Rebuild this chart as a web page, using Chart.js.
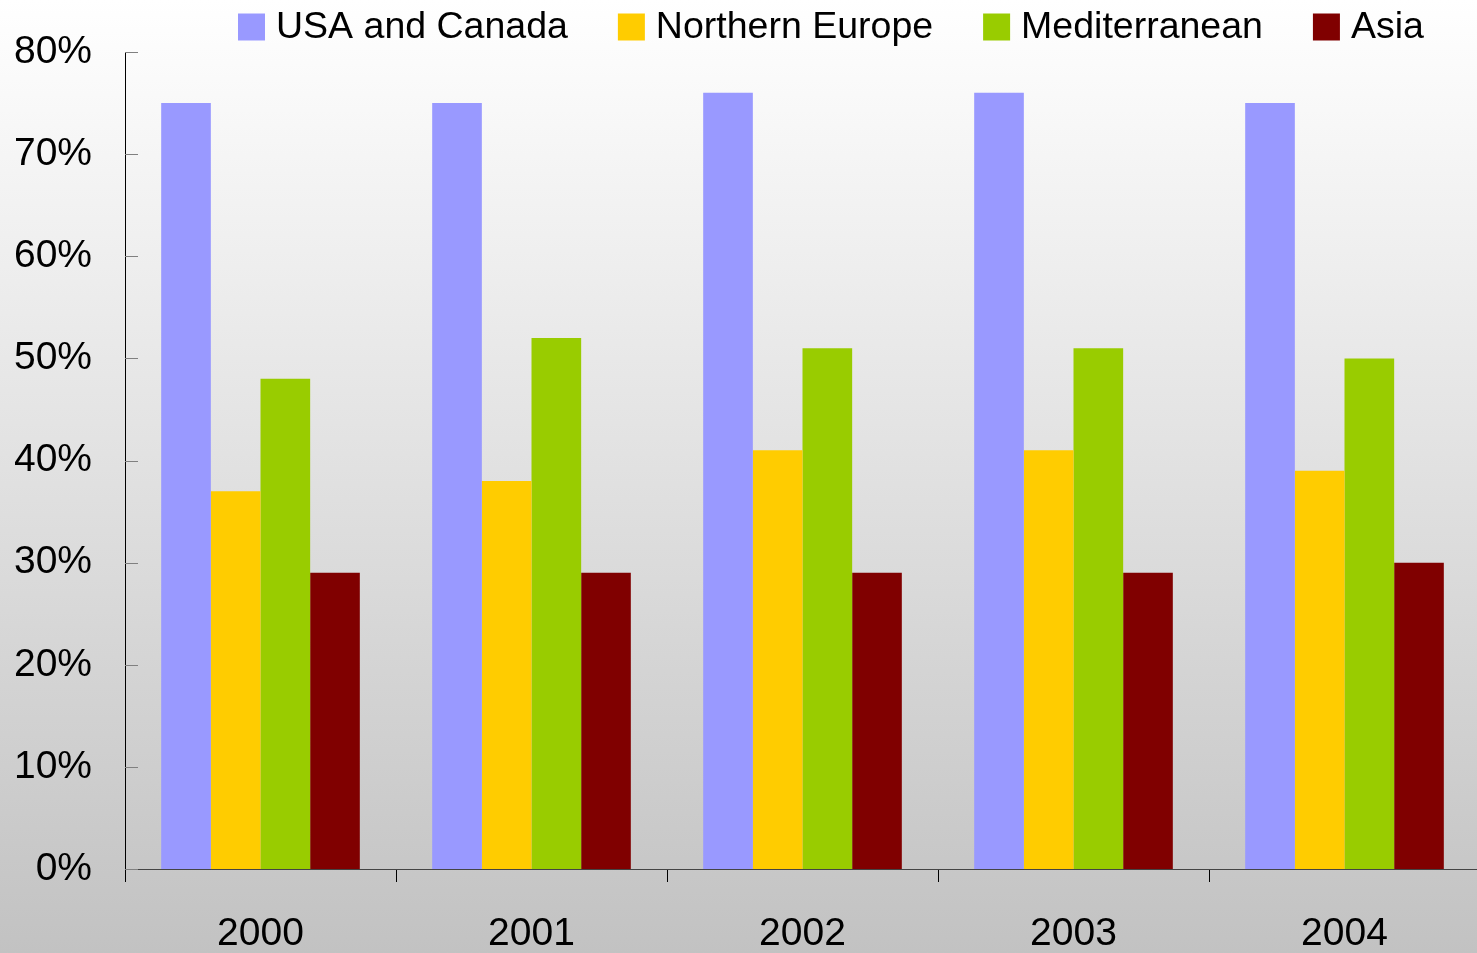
<!DOCTYPE html>
<html><head><meta charset="utf-8">
<script src="https://cdn.jsdelivr.net/npm/chart.js@4"></script>
<style>html,body{margin:0;padding:0;overflow:hidden;background:#fff}
#wrap{position:relative;width:1480px;height:953px}
</style></head><body><div id="wrap"><canvas id="c"></canvas></div>
<script>
const categories = ['2000', '2001', '2002', '2003', '2004'];
const seriesNames = ['USA and Canada', 'Northern Europe', 'Mediterranean', 'Asia'];
const usaCanada = [75, 75, 76, 76, 75];
const northernEurope = [37, 38, 41, 41, 39];
const mediterranean = [48, 52, 51, 51, 50];
const asia = [29, 29, 29, 29, 30];
const yTicks = [0, 10, 20, 30, 40, 50, 60, 70, 80];
const colors = ['#9999ff', '#ffcc00', '#99cc00', '#800000'];

const FONT = "'Liberation Sans', Arial, sans-serif";

const bgPlugin = {
  id: 'bg',
  beforeDraw(chart) {
    const ctx = chart.ctx;
    const g = ctx.createLinearGradient(0, 0, 0, chart.height);
    g.addColorStop(0, '#ffffff');
    g.addColorStop(1, '#c2c2c2');
    ctx.save();
    ctx.fillStyle = g;
    ctx.fillRect(0, 0, chart.width, chart.height);
    ctx.restore();
  }
};

const innerTicks = {
  id: 'innerTicks',
  afterDraw(chart) {
    const s = chart.scales.y;
    const ctx = chart.ctx;
    ctx.save();
    ctx.strokeStyle = '#808080';
    ctx.lineWidth = 1;
    s.ticks.forEach((t, i) => {
      const y = Math.round(s.getPixelForTick(i)) + 0.5;
      ctx.beginPath();
      ctx.moveTo(s.right, y);
      ctx.lineTo(s.right + 13, y);
      ctx.stroke();
    });
    ctx.restore();
  }
};

const customLegend = {
  id: 'customLegend',
  afterDraw(chart) {
    const ctx = chart.ctx;
    ctx.save();
    ctx.font = '37.5px ' + FONT;
    ctx.textBaseline = 'middle';
    ctx.textAlign = 'left';
    let x = 238;
    const yc = 27;
    const box = 27;
    chart.data.datasets.forEach(ds => {
      ctx.fillStyle = ds.backgroundColor;
      ctx.fillRect(x, yc - box / 2, box, box);
      x += box + 11;
      ctx.fillStyle = '#000';
      ctx.fillText(ds.label, x, yc + 1);
      x += ctx.measureText(ds.label).width + 50;
    });
    ctx.restore();
  }
};

const seriesData = [usaCanada, northernEurope, mediterranean, asia];

new Chart(document.getElementById('c'), {
  type: 'bar',
  data: {
    labels: categories,
    datasets: seriesNames.map((name, i) => ({
      label: name,
      data: seriesData[i],
      backgroundColor: colors[i],
      borderWidth: 0,
      categoryPercentage: 0.733,
      barPercentage: 1.0
    }))
  },
  options: {
    responsive: true,
    maintainAspectRatio: false,
    animation: false,
    layout: { padding: { top: 52, left: 15, right: 0, bottom: 0 } },
    plugins: { legend: { display: false }, tooltip: { enabled: false } },
    scales: {
      x: {
        afterFit: s => { s.height = 84; },
        grid: { display: true, drawOnChartArea: false, drawTicks: true, tickLength: 13, color: '#000', offset: true },
        border: { display: true, color: '#444', width: 1 },
        ticks: { font: { family: FONT, size: 39 }, color: '#000', padding: 29 }
      },
      y: {
        min: 0, max: 80,
        afterFit: s => { s.width = 110; s.paddingTop = 0; s.paddingBottom = 0; },
        afterBuildTicks: s => { s.ticks = yTicks.map(v => ({ value: v })); },
        grid: { display: false, drawTicks: false },
        border: { display: true, color: '#000', width: 1 },
        ticks: { callback: v => v + '%', font: { family: FONT, size: 39 }, color: '#000', padding: 33 }
      }
    }
  },
  plugins: [bgPlugin, innerTicks, customLegend]
});
</script></body></html>
